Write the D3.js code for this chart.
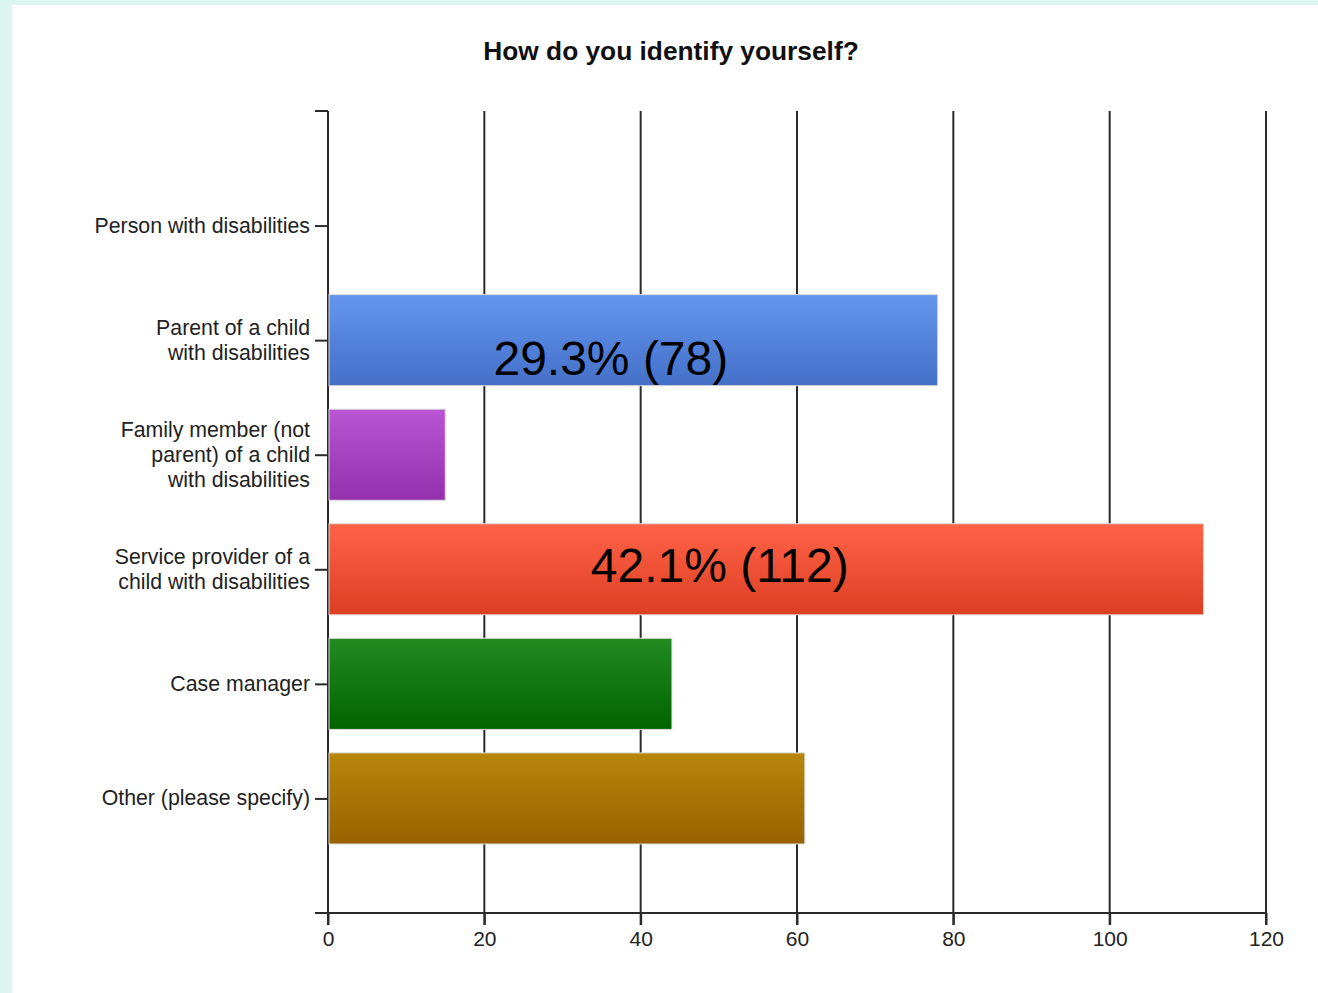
<!DOCTYPE html>
<html>
<head>
<meta charset="utf-8">
<script src="https://cdn.jsdelivr.net/npm/d3@7"></script>
<style>
  html, body { margin: 0; padding: 0; background: #ddf5f1; }
  svg { display: block; }
</style>
</head>
<body>
<svg id="chart" width="1318" height="993"></svg>
<script>
const title = "How do you identify yourself?";
const categories = [
  ["Person with disabilities"],
  ["Parent of a child", "with disabilities"],
  ["Family member (not", "parent) of a child", "with disabilities"],
  ["Service provider of a", "child with disabilities"],
  ["Case manager"],
  ["Other (please specify)"]
];
const values = [0, 78, 15, 112, 44, 61];
const valueLabels = ["", "29.3% (78)", "", "42.1% (112)", "", ""];
const xTicks = [0, 20, 40, 60, 80, 100, 120];
const colorsTop = ["#6495ed", "#6495ed", "#ba55d3", "#ff6347", "#228b22", "#b8860b"];
const colorsBottom = ["#4470c8", "#4470c8", "#9430ae", "#dc3e22", "#006400", "#996200"];

(function () {
const svg = d3.select("#chart");
svg.append("rect").attr("x", 12).attr("y", 5).attr("width", 1318).attr("height", 993).attr("fill", "#fff");

const pLeft = 328, pRight = 1266, pTop = 111, pBottom = 913;
const x = d3.scaleLinear().domain([0, 120]).range([pLeft, pRight]);
const keys = categories.map((c, i) => i);
const y = d3.scalePoint().domain(keys).range([pTop, pBottom]).padding(1);
const barH = y.step() * 0.795;

const defs = svg.append("defs");
keys.forEach(i => {
  const g = defs.append("linearGradient").attr("id", "g" + i)
    .attr("x1", 0).attr("y1", 0).attr("x2", 0).attr("y2", 1);
  g.append("stop").attr("offset", "0%").attr("stop-color", colorsTop[i]);
  g.append("stop").attr("offset", "100%").attr("stop-color", colorsBottom[i]);
});

svg.append("text").attr("x", 671).attr("y", 60)
  .attr("text-anchor", "middle")
  .attr("font-family", "Liberation Sans, Arial, sans-serif")
  .attr("font-weight", "bold").attr("font-size", 26.3).attr("fill", "#111")
  .text(title);

const lineColor = "#2a2a2a";
svg.append("g").selectAll("line").data(xTicks.slice(1)).join("line")
  .attr("x1", d => x(d)).attr("x2", d => x(d))
  .attr("y1", pTop).attr("y2", pBottom + 12)
  .attr("stroke", lineColor).attr("stroke-width", 2);

const xAxis = d3.axisBottom(x).tickValues(xTicks).tickSize(12).tickPadding(6);
const gx = svg.append("g").attr("transform", `translate(0,${pBottom})`).call(xAxis);
gx.select(".domain").remove();
gx.selectAll(".tick line").attr("stroke", lineColor).attr("stroke-width", 2);
gx.selectAll(".tick text").attr("font-family", "Liberation Sans, Arial, sans-serif")
  .attr("font-size", 21).attr("fill", "#222");
svg.append("line").attr("x1", pLeft - 13).attr("x2", pRight).attr("y1", pBottom).attr("y2", pBottom)
  .attr("stroke", lineColor).attr("stroke-width", 2);

const yAxis = d3.axisLeft(y).tickSize(13).tickFormat("");
const gy = svg.append("g").attr("transform", `translate(${pLeft},0)`).call(yAxis);
gy.select(".domain").remove();
gy.selectAll(".tick line").attr("stroke", lineColor).attr("stroke-width", 2);
svg.append("line").attr("x1", pLeft).attr("x2", pLeft).attr("y1", pTop).attr("y2", pBottom + 12)
  .attr("stroke", lineColor).attr("stroke-width", 2);
svg.append("line").attr("x1", pLeft - 13).attr("x2", pLeft).attr("y1", pTop).attr("y2", pTop)
  .attr("stroke", lineColor).attr("stroke-width", 2);

const lh = 25;
const catG = svg.append("g");
keys.forEach(i => {
  const lines = categories[i];
  const t = catG.append("text")
    .attr("text-anchor", "end")
    .attr("font-family", "Liberation Sans, Arial, sans-serif")
    .attr("font-size", 21.3).attr("fill", "#222");
  lines.forEach((ln, j) => {
    t.append("tspan").attr("x", pLeft - 18)
      .attr("y", y(i) + (j - (lines.length - 1) / 2) * lh + 7)
      .text(ln);
  });
});

svg.append("g").selectAll("rect").data(keys.filter(i => values[i] > 0)).join("rect")
  .attr("x", x(0) + 1).attr("y", i => y(i) - barH / 2)
  .attr("width", i => x(values[i]) - x(0) - 1).attr("height", barH)
  .attr("fill", i => `url(#g${i})`)
  .attr("stroke", "#dadada").attr("stroke-width", 1);

const labelDx = {1: -22, 3: -46};
const labelDy = {1: 35, 3: 13};
svg.append("g").selectAll("text").data(keys.filter(i => valueLabels[i])).join("text")
  .attr("x", i => (x(0) + x(values[i])) / 2 + (labelDx[i] || 0))
  .attr("y", i => y(i) + (labelDy[i] || 0))
  .attr("text-anchor", "middle")
  .attr("font-family", "Liberation Sans, Arial, sans-serif")
  .attr("font-size", 48).attr("fill", "#000")
  .text(i => valueLabels[i]);
})();
</script>
</body>
</html>
